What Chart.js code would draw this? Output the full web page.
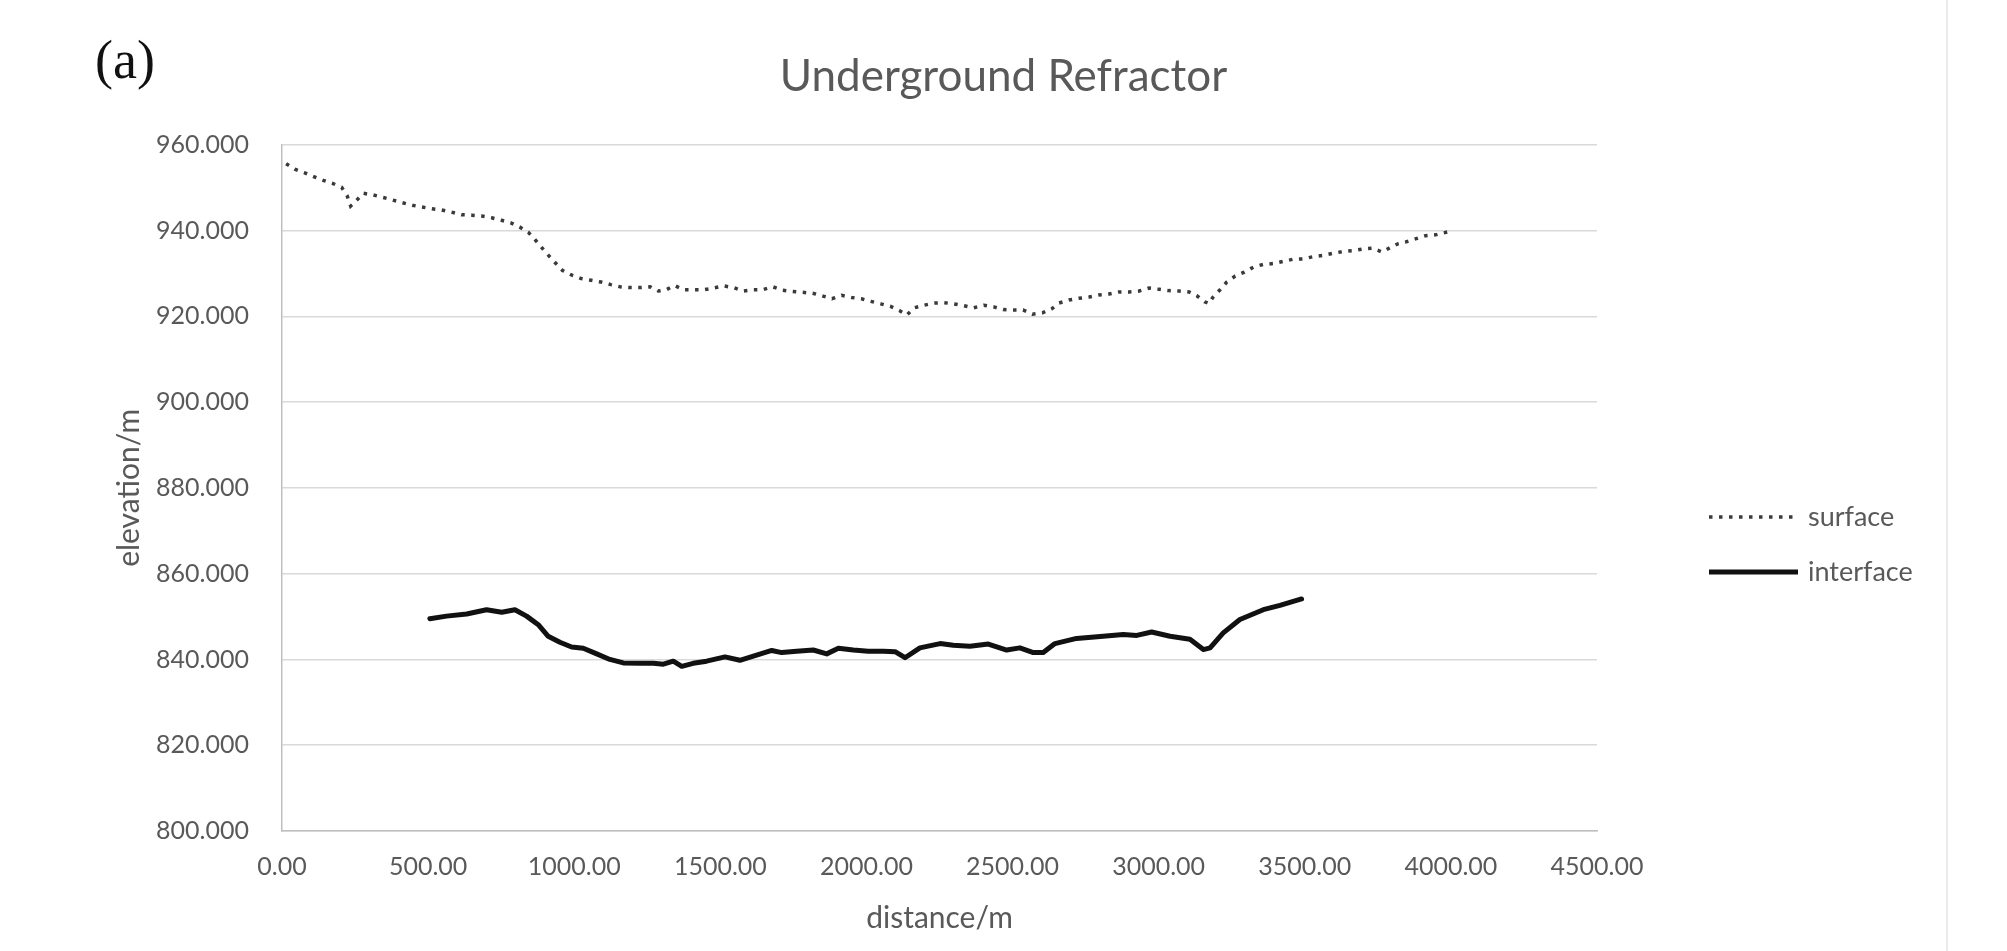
<!DOCTYPE html>
<html>
<head>
<meta charset="utf-8">
<title>Underground Refractor</title>
<script src="https://cdn.jsdelivr.net/npm/chart.js@4/dist/chart.umd.min.js"></script>
<style>
  html, body { margin: 0; padding: 0; background: #ffffff; }
  #wrap { position: relative; width: 2007px; height: 951px; }
</style>
</head>
<body>
<div id="wrap"><canvas id="refractorChart"></canvas></div>
<script>
// ===== 데이터 =====

// surface (지표) 거리 / 고도
const surfaceX = [14, 44, 76, 108, 141, 173, 204, 223, 235, 256, 278, 312, 347, 379, 412, 446, 478, 513, 546, 580,
  614, 649, 683, 717, 751, 783, 814, 843, 866, 889, 912, 935, 960, 992, 1024, 1058, 1092, 1125, 1157, 1192,
  1226, 1260, 1288, 1315, 1343, 1375, 1409, 1443, 1477, 1511, 1546, 1579, 1613, 1645, 1679, 1713, 1747, 1781, 1816, 1848,
  1882, 1915, 1949, 1983, 2015, 2049, 2083, 2114, 2138, 2164, 2198, 2231, 2265, 2299, 2333, 2367, 2402, 2436, 2468, 2502,
  2536, 2568, 2602, 2633, 2659, 2693, 2727, 2762, 2796, 2830, 2864, 2898, 2933, 2967, 3001, 3035, 3070, 3104, 3131, 3157,
  3172, 3185, 3210, 3233, 3262, 3293, 3325, 3357, 3391, 3425, 3459, 3494, 3528, 3562, 3596, 3630, 3664, 3699, 3733, 3764,
  3792, 3818, 3844, 3875, 3913, 3947, 3990];
const surfaceY = [955.6, 954.3, 953.5, 952.6, 951.7, 951.0, 950.1, 948.1, 945.7, 947.1, 948.7, 948.3, 947.7, 947.1, 946.5, 945.9, 945.5, 945.1, 944.8, 944.3,
  943.7, 943.6, 943.4, 943.0, 942.4, 941.8, 940.8, 939.6, 937.9, 936.0, 934.2, 932.5, 930.7, 929.6, 928.8, 928.4, 928.0, 927.4, 926.9, 926.7,
  926.7, 926.9, 925.9, 926.2, 927.2, 926.2, 926.2, 926.2, 926.6, 927.1, 926.7, 925.9, 926.2, 926.2, 926.9, 926.1, 925.8, 925.6, 925.4, 924.8,
  924.1, 924.9, 924.4, 924.1, 923.5, 922.9, 922.3, 921.3, 920.3, 922.0, 922.6, 923.1, 923.2, 922.9, 922.5, 922.0, 922.6, 922.2, 921.6, 921.5,
  921.5, 920.5, 920.8, 921.7, 923.1, 923.8, 924.2, 924.5, 925.0, 925.2, 925.7, 925.7, 925.9, 926.6, 926.3, 926.0, 925.9, 925.7, 924.8, 923.4,
  923.0, 924.4, 926.2, 928.0, 929.4, 930.3, 931.5, 932.1, 932.3, 932.8, 933.3, 933.4, 933.9, 934.2, 934.7, 935.1, 935.3, 935.7, 935.9, 935.0,
  936.0, 936.9, 937.3, 938.0, 938.8, 939.0, 939.7];

// interface (굴절면) 거리 / 고도
const interfaceX = [506, 563, 632, 700, 752, 797, 837, 877, 911, 951, 991, 1031, 1077, 1122, 1168, 1225, 1271, 1305, 1339, 1368,
  1407, 1453, 1516, 1567, 1624, 1676, 1710, 1761, 1818, 1864, 1904, 1955, 2006, 2058, 2098, 2132, 2183, 2252, 2297, 2354,
  2417, 2480, 2525, 2571, 2605, 2645, 2719, 2810, 2879, 2925, 2976, 3039, 3107, 3153, 3176, 3221, 3278, 3358, 3415, 3489];
const interfaceY = [849.5, 850.1, 850.6, 851.6, 851.0, 851.6, 850.1, 848.1, 845.4, 844.0, 842.9, 842.6, 841.3, 840.0, 839.2, 839.1, 839.1, 838.9, 839.6, 838.4,
  839.1, 839.6, 840.6, 839.8, 841.0, 842.1, 841.6, 841.9, 842.2, 841.3, 842.6, 842.2, 841.9, 841.9, 841.8, 840.4, 842.7, 843.7, 843.3, 843.1,
  843.6, 842.2, 842.7, 841.6, 841.6, 843.7, 844.9, 845.4, 845.8, 845.6, 846.4, 845.4, 844.7, 842.3, 842.7, 846.2, 849.3, 851.6, 852.6, 854.1];

// 축 범위 / 눈금
const xTicks = [0, 500, 1000, 1500, 2000, 2500, 3000, 3500, 4000, 4500];
const yTicks = [800, 820, 840, 860, 880, 900, 920, 940, 960];

const TEXT_GRAY = '#595959';

function toPoints(xs, ys) {
  return xs.map((x, i) => ({ x: x, y: ys[i] }));
}

// ===== 범례 / 패널 라벨 플러그인 =====
const extrasPlugin = {
  id: 'extras',
  afterLayout(chart) {
    // 제목은 캔버스 전체 폭 기준으로 가운데 정렬
    const tb = chart.titleBlock;
    if (tb) {
      tb.left = 0;
      tb.right = chart.width;
      tb.width = chart.width;
    }
  },
  afterDraw(chart) {
    const ctx = chart.ctx;
    ctx.save();

    // 패널 라벨 (a)
    ctx.fillStyle = '#111111';
    ctx.font = '54px "Liberation Serif", "DejaVu Serif", serif';
    ctx.textBaseline = 'middle';
    ctx.textAlign = 'left';
    ctx.fillText('(a)', 95, 64);

    // 오른쪽 테두리
    ctx.strokeStyle = '#e4e4e4';
    ctx.lineWidth = 1.5;
    ctx.beginPath();
    ctx.moveTo(1947, 0);
    ctx.lineTo(1947, 951);
    ctx.stroke();

    // 범례
    const rows = [517, 572];
    chart.data.datasets.forEach((ds, i) => {
      const y = rows[i];
      ctx.strokeStyle = ds.borderColor;
      ctx.lineWidth = ds.borderWidth;
      ctx.setLineDash(ds.borderDash || []);
      ctx.beginPath();
      ctx.moveTo(1709, y);
      ctx.lineTo(1798, y);
      ctx.stroke();
      ctx.setLineDash([]);

      ctx.fillStyle = TEXT_GRAY;
      ctx.font = '27px Lato';
      ctx.fillText(ds.label, 1808, y);
    });

    ctx.restore();
  }
};

// ===== 차트 초기화 =====
function initRefractorChart() {
  const ctx = document.getElementById('refractorChart');
  if (!ctx) return;

  Chart.defaults.font.family = 'Lato';
  Chart.defaults.color = TEXT_GRAY;

  new Chart(ctx, {
    type: 'line',
    data: {
      datasets: [{
        label: 'surface',
        data: toPoints(surfaceX, surfaceY),
        borderColor: '#3a3a3a',
        borderWidth: 3.5,
        borderDash: [3.5, 6.5],
        pointRadius: 0,
        tension: 0,
        fill: false
      }, {
        label: 'interface',
        data: toPoints(interfaceX, interfaceY),
        borderColor: '#111111',
        borderWidth: 5,
        borderJoinStyle: 'round',
        borderCapStyle: 'round',
        pointRadius: 0,
        tension: 0,
        fill: false
      }]
    },
    options: {
      responsive: true,
      maintainAspectRatio: false,
      animation: false,
      layout: {
        padding: { left: 0, right: 410, top: 0, bottom: 0 }
      },
      plugins: {
        legend: { display: false },
        tooltip: { enabled: false },
        title: {
          display: true,
          text: 'Underground Refractor',
          fullSize: true,
          color: TEXT_GRAY,
          font: { size: 44, weight: 'normal' },
          padding: { top: 50, bottom: 42 }
        }
      },
      scales: {
        x: {
          type: 'linear',
          min: 0,
          max: 4500,
          afterBuildTicks: (scale) => {
            scale.ticks = xTicks.map(v => ({ value: v }));
          },
          afterFit: (scale) => { scale.height = 120; },
          ticks: {
            padding: 21,
            maxRotation: 0,
            font: { size: 25 },
            color: TEXT_GRAY,
            callback: (v) => Number(v).toFixed(2)
          },
          grid: { display: false, drawTicks: false },
          border: { display: true, color: '#bfbfbf', width: 1.5 },
          title: {
            display: true,
            text: 'distance/m',
            color: TEXT_GRAY,
            font: { size: 30 },
            padding: { top: 0, bottom: 15 }
          }
        },
        y: {
          type: 'linear',
          min: 800,
          max: 960,
          afterBuildTicks: (scale) => {
            scale.ticks = yTicks.map(v => ({ value: v }));
          },
          afterFit: (scale) => { scale.width = 282; },
          ticks: {
            padding: 33,
            font: { size: 25 },
            color: TEXT_GRAY,
            callback: (v) => Number(v).toFixed(3)
          },
          grid: { color: '#d9d9d9', lineWidth: 1.5, drawTicks: false },
          border: { display: true, color: '#bfbfbf', width: 1.5 },
          title: {
            display: true,
            text: 'elevation/m',
            color: TEXT_GRAY,
            font: { size: 30 },
            padding: { top: 111, bottom: 0 }
          }
        }
      }
    },
    plugins: [extrasPlugin]
  });
}

initRefractorChart();
</script>
</body>
</html>
